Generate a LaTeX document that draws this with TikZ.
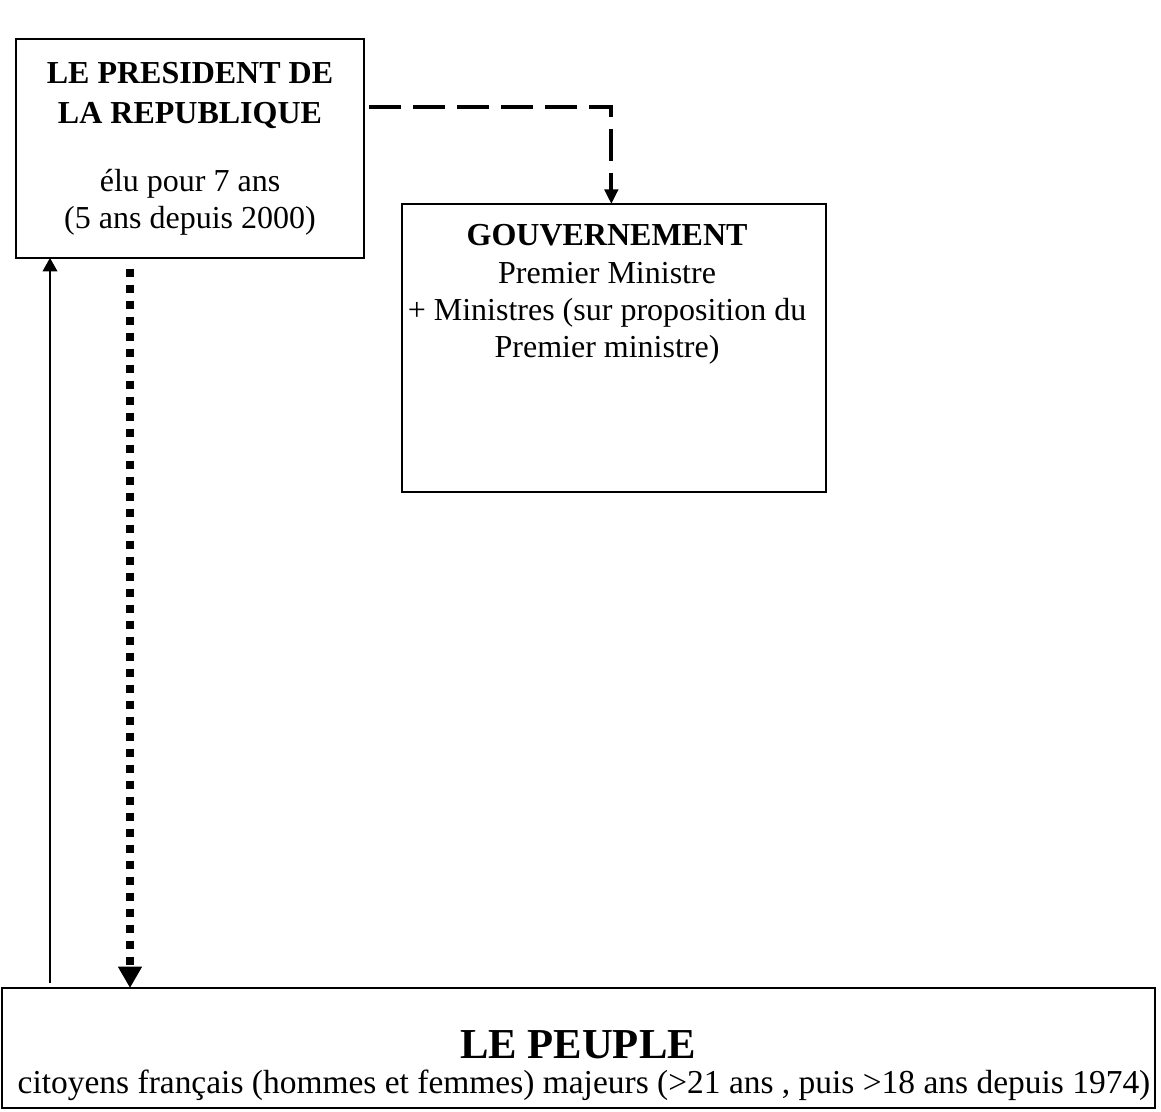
\documentclass[tikz,border=0pt]{standalone}
\usepackage{fontspec}
\setmainfont{Liberation Serif}
\usetikzlibrary{arrows.meta}

\tikzset{
	box/.style={draw, line width=0.75pt, inner sep=0pt, outer sep=0pt},
	boxtext/.style={inner sep=0pt, align=center, font=\fontsize{12}{14}\selectfont},
	nomarrow/.style={line width=1.5pt, dash pattern=on 12pt off 4.5pt, -{Triangle[length=5.5pt,width=5pt]}},
	electarrow/.style={line width=3pt, dash pattern=on 3pt off 3pt, -{Triangle[length=8pt,width=8.5pt]}},
	votearrow/.style={line width=0.5pt, -{Triangle[length=5pt,width=5.5pt]}}
}

\begin{document}
\begin{tikzpicture}[x=0.375pt,y=0.375pt,yscale=-1]
	\useasboundingbox (0,0) rectangle (1161,1112);
	
	%Shape: Rectangle [president]
	\node [box, boxtext, minimum width=130.5pt, minimum height=82.1pt] (pres) at (190,148.5)
	{\textbf{LE PRESIDENT DE}\\[1pt]\textbf{LA REPUBLIQUE}\\[11.5pt]élu pour 7 ans\\(5 ans depuis 2000)};
	%Shape: Rectangle [gouvernement]
	\node [box, minimum width=159pt, minimum height=108pt] (gouv) at (614,348) {};
	%Shape: Rectangle [peuple]
	\node [box, minimum width=432.4pt, minimum height=45pt] (peuple) at (578.5,1048) {};
	
	% Text Node
	\node [boxtext, anchor=north] (gouvtxt) at ([xshift=-2.6pt,yshift=7.5pt]gouv.north)
	{\textbf{GOUVERNEMENT}\\Premier Ministre\\+ Ministres (sur proposition du\\Premier ministre)};
	% Text Node
	\node [inner sep=0pt, anchor=base, font=\fontsize{16}{19}\bfseries] (peupletitle) at (578,1058) {LE PEUPLE};
	% Text Node
	\node [inner sep=0pt, anchor=base, font=\fontsize{12.55}{14}\selectfont] (peupletxt) at (584,1093)
	{citoyens français (hommes et femmes) majeurs (>21 ans , puis >18 ans depuis 1974)};
	
	%Straight Lines [nomination]
	\draw [nomarrow] ([xshift=2pt,yshift=25.5pt]pres.north east) -| ([xshift=-1pt]gouv.north);
	%Straight Lines [election]
	\draw [electarrow] ([xshift=42.75pt,yshift=4pt]pres.south west) -- ([xshift=42.75pt]pres.south west |- peuple.north);
	%Straight Lines [vote]
	\draw [votearrow] ([xshift=12.75pt,yshift=-2pt]pres.south west |- peuple.north) -- ([xshift=12.75pt]pres.south west);
	
\end{tikzpicture}
\end{document}
